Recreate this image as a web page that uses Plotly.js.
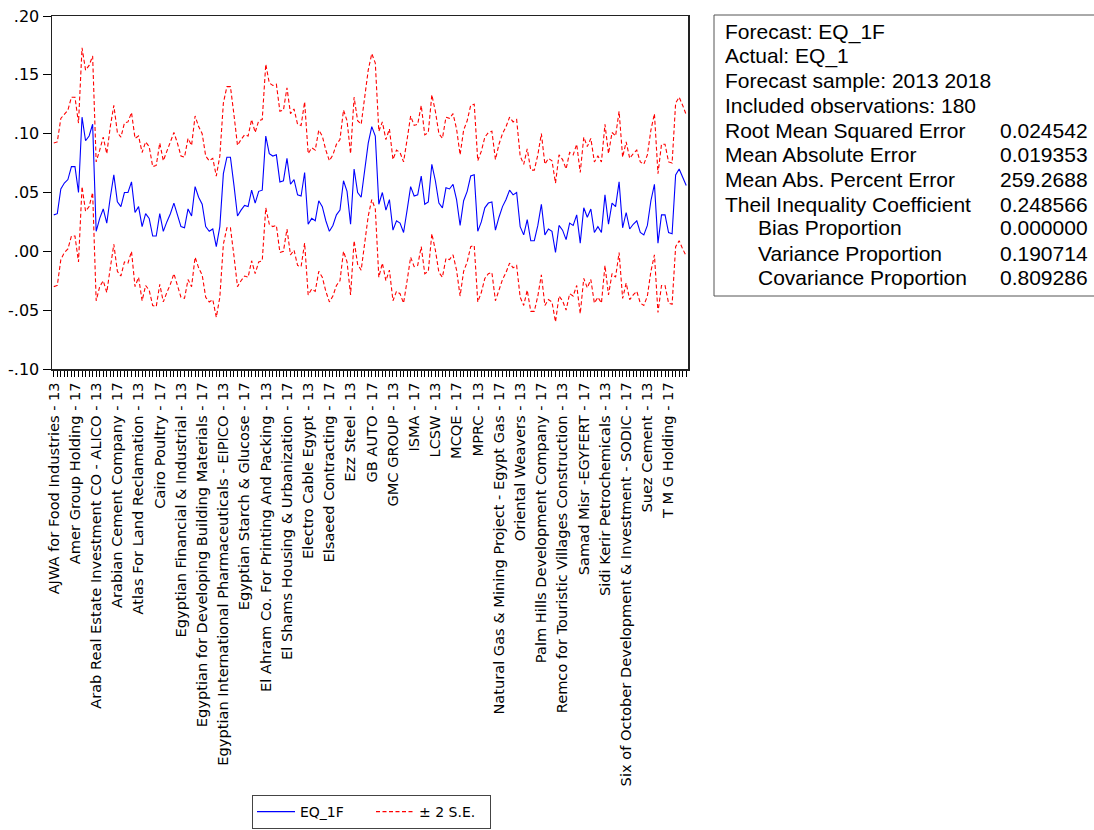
<!DOCTYPE html>
<html>
<head>
<meta charset="utf-8">
<script src="https://cdn.plot.ly/plotly-3.0.1.min.js"></script>
<style>
  html, body { margin: 0; padding: 0; background: #fff; }
  #chart { width: 1094px; height: 830px; }
</style>
</head>
<body>
<div id="chart"></div>
<script>
// ---- Data ----
const tickLabels = [
  "AJWA for Food Industries - 13",
  "Amer Group Holding - 17",
  "Arab Real Estate Investment CO - ALICO - 13",
  "Arabian Cement Company - 17",
  "Atlas For Land Reclamation - 13",
  "Cairo Poultry - 17",
  "Egyptian Financial & Industrial - 13",
  "Egyptian for Developing Building Materials - 17",
  "Egyptian International Pharmaceuticals - EIPICO - 13",
  "Egyptian Starch & Glucose - 17",
  "El Ahram Co. For Printing And Packing - 13",
  "El Shams Housing & Urbanization - 17",
  "Electro Cable Egypt - 13",
  "Elsaeed Contracting - 17",
  "Ezz Steel - 13",
  "GB AUTO - 17",
  "GMC GROUP - 13",
  "ISMA - 17",
  "LCSW - 13",
  "MCQE - 17",
  "MPRC - 13",
  "Natural Gas & Mining Project - Egypt Gas - 17",
  "Oriental Weavers - 13",
  "Palm Hills Development Company - 17",
  "Remco for Touristic Villages Construction - 13",
  "Samad Misr -EGYFERT - 17",
  "Sidi Kerir Petrochemicals - 13",
  "Six of October Development & Investment - SODIC - 17",
  "Suez Cement - 13",
  "T M G Holding - 17"
];

// Forecast EQ_1F, one value per observation (180)
const forecast = [
  0.031, 0.032, 0.053, 0.058, 0.061, 0.072, 0.072, 0.050, 0.114, 0.094,
  0.098, 0.108, 0.017, 0.028, 0.036, 0.024, 0.046, 0.065, 0.042, 0.038,
  0.050, 0.050, 0.059, 0.033, 0.038, 0.021, 0.032, 0.028, 0.013, 0.013,
  0.032, 0.017, 0.025, 0.032, 0.041, 0.032, 0.021, 0.020, 0.036, 0.030,
  0.055, 0.046, 0.040, 0.021, 0.017, 0.019, 0.004, 0.021, 0.066, 0.080,
  0.080, 0.056, 0.030, 0.035, 0.039, 0.038, 0.052, 0.041, 0.051, 0.052,
  0.098, 0.083, 0.081, 0.082, 0.059, 0.060, 0.079, 0.057, 0.061, 0.048,
  0.047, 0.067, 0.023, 0.028, 0.026, 0.043, 0.038, 0.026, 0.017, 0.022,
  0.031, 0.035, 0.060, 0.051, 0.023, 0.070, 0.050, 0.046, 0.069, 0.092,
  0.106, 0.098, 0.040, 0.050, 0.035, 0.044, 0.018, 0.026, 0.024, 0.016,
  0.035, 0.055, 0.047, 0.048, 0.064, 0.040, 0.042, 0.074, 0.060, 0.041,
  0.037, 0.054, 0.053, 0.057, 0.044, 0.022, 0.043, 0.051, 0.064, 0.065,
  0.017, 0.025, 0.037, 0.041, 0.042, 0.018, 0.029, 0.038, 0.044, 0.052,
  0.048, 0.050, 0.021, 0.014, 0.027, 0.009, 0.009, 0.022, 0.040, 0.014,
  0.019, 0.017, -0.001, 0.022, 0.018, 0.010, 0.024, 0.022, 0.031, 0.007,
  0.037, 0.029, 0.036, 0.016, 0.021, 0.016, 0.048, 0.023, 0.041, 0.038,
  0.059, 0.020, 0.033, 0.019, 0.023, 0.026, 0.016, 0.014, 0.022, 0.043,
  0.057, 0.007, 0.031, 0.031, 0.016, 0.015, 0.065, 0.070, 0.063, 0.056
];

// Half-width of the band (2 x S.E.), read per observation
const twoSE = [
  0.061, 0.061, 0.060, 0.059, 0.059, 0.059, 0.059, 0.059, 0.059, 0.060,
  0.060, 0.058, 0.059, 0.058, 0.061, 0.059, 0.060, 0.059, 0.059, 0.059,
  0.059, 0.060, 0.059, 0.063, 0.060, 0.063, 0.061, 0.061, 0.059, 0.060,
  0.060, 0.060, 0.060, 0.060, 0.060, 0.060, 0.060, 0.060, 0.060, 0.060,
  0.060, 0.060, 0.060, 0.060, 0.060, 0.060, 0.060, 0.060, 0.060, 0.060,
  0.060, 0.060, 0.060, 0.060, 0.060, 0.060, 0.060, 0.060, 0.060, 0.060,
  0.061, 0.060, 0.060, 0.060, 0.060, 0.060, 0.060, 0.060, 0.060, 0.060,
  0.060, 0.060, 0.060, 0.060, 0.060, 0.060, 0.060, 0.060, 0.060, 0.060,
  0.060, 0.060, 0.060, 0.060, 0.060, 0.061, 0.061, 0.062, 0.062, 0.062,
  0.062, 0.062, 0.062, 0.060, 0.060, 0.060, 0.060, 0.060, 0.060, 0.060,
  0.060, 0.060, 0.060, 0.060, 0.060, 0.059, 0.059, 0.059, 0.059, 0.059,
  0.059, 0.060, 0.060, 0.060, 0.060, 0.060, 0.060, 0.060, 0.060, 0.060,
  0.060, 0.060, 0.060, 0.060, 0.060, 0.060, 0.062, 0.062, 0.062, 0.062,
  0.062, 0.062, 0.060, 0.060, 0.060, 0.060, 0.060, 0.060, 0.060, 0.060,
  0.060, 0.060, 0.059, 0.060, 0.060, 0.060, 0.060, 0.060, 0.060, 0.060,
  0.060, 0.060, 0.060, 0.060, 0.060, 0.060, 0.060, 0.060, 0.060, 0.060,
  0.060, 0.060, 0.060, 0.060, 0.060, 0.060, 0.060, 0.060, 0.060, 0.060,
  0.060, 0.059, 0.060, 0.060, 0.060, 0.060, 0.061, 0.061, 0.061, 0.060
];

const yTickVals = [-0.10, -0.05, 0.00, 0.05, 0.10, 0.15, 0.20];
const yTickText = ["-.10", "-.05", ".00", ".05", ".10", ".15", ".20"];

const statLabels = [
  "Forecast: EQ_1F",
  "Actual: EQ_1",
  "Forecast sample: 2013 2018",
  "Included observations: 180",
  "Root Mean Squared Error",
  "Mean Absolute Error",
  "Mean Abs. Percent Error",
  "Theil Inequality Coefficient",
  "Bias Proportion",
  "Variance Proportion",
  "Covariance Proportion"
];
const statValues = ["", "", "", "", "0.024542", "0.019353", "259.2688", "0.248566", "0.000000", "0.190714", "0.809286"];
const statIndented = [false, false, false, false, false, false, false, false, true, true, true];

// ---- Build the chart ----
const obs = forecast.map((_, i) => i);
const upper = forecast.map((f, i) => f + twoSE[i]);
const lower = forecast.map((f, i) => f - twoSE[i]);
const tickVals = obs;
const tickText = obs.map(i => (i % 6 === 0 ? tickLabels[i / 6] : ""));

// pixel geometry helpers (plot area: x 52..688, y 16..369)
const W = 1094, H = 830;
const L = 52, R = 688, T = 16, B = 369;
const px = x => (x - L) / (R - L);
const py = y => (B - y) / (B - T);

const traces = [
  { x: obs, y: forecast, type: "scatter", mode: "lines", name: "EQ_1F",
    line: { color: "#0000FF", width: 1.1 } },
  { x: obs, y: upper, type: "scatter", mode: "lines", name: "\u00B1 2 S.E.", legendgroup: "se",
    line: { color: "#FF0000", width: 1.1, dash: "4px,2.5px" } },
  { x: obs, y: lower, type: "scatter", mode: "lines", name: "\u00B1 2 S.E.", legendgroup: "se", showlegend: false,
    line: { color: "#FF0000", width: 1.1, dash: "4px,2.5px" } }
];

const statFont = { family: "Liberation Sans, Arial, sans-serif", size: 21, color: "#000" };
const lineY = [32, 56, 80, 105, 130, 155, 179, 204, 228, 253, 277];
const annotations = [];
statLabels.forEach((t, i) => {
  annotations.push({ text: t, xref: "paper", yref: "paper", x: px(statIndented[i] ? 756 : 723), y: py(lineY[i]),
    xanchor: "left", yanchor: "middle", showarrow: false, font: statFont });
  if (statValues[i]) {
    annotations.push({ text: statValues[i], xref: "paper", yref: "paper", x: px(1090), y: py(lineY[i]),
      xanchor: "right", yanchor: "middle", showarrow: false, font: statFont });
  }
});

const layout = {
  width: W, height: H,
  margin: { l: L, r: W - R, t: T, b: H - B, pad: 0 },
  paper_bgcolor: "#fff", plot_bgcolor: "#fff",
  showlegend: true,
  legend: {
    orientation: "h", xref: "container", yref: "container",
    x: 252 / W, y: (H - 829) / H, xanchor: "left", yanchor: "bottom",
    bgcolor: "#fff", bordercolor: "#444", borderwidth: 1,
    font: { family: "DejaVu Sans, sans-serif", size: 14, color: "#000" },
    itemwidth: 38, entrywidth: 66, tracegroupgap: 0
  },
  xaxis: {
    range: [-0.5, 179.5], tickmode: "array", tickvals: tickVals, ticktext: tickText,
    tickangle: -90, ticks: "outside", ticklen: 6, tickwidth: 1, tickcolor: "#000",
    showgrid: false, zeroline: false, showline: true, linecolor: "#222", linewidth: 1.5, mirror: true,
    tickfont: { family: "DejaVu Sans, sans-serif", size: 14.6, color: "#000" },
    automargin: false, fixedrange: true
  },
  yaxis: {
    range: [-0.10, 0.20], tickmode: "array", tickvals: yTickVals, ticktext: yTickText,
    ticks: "outside", ticklen: 8, tickwidth: 1, tickcolor: "#000",
    showgrid: false, zeroline: false, showline: true, linecolor: "#222", linewidth: 1.5, mirror: true,
    tickfont: { family: "DejaVu Sans, sans-serif", size: 16, color: "#000" },
    automargin: false, fixedrange: true
  },
  shapes: [
    { type: "rect", xref: "paper", yref: "paper", x0: px(714), x1: px(1110), y0: py(296), y1: py(15),
      line: { color: "#555", width: 1 }, fillcolor: "rgba(0,0,0,0)" }
  ],
  annotations: annotations
};

Plotly.newPlot("chart", traces, layout, { staticPlot: true, displayModeBar: false });
</script>
</body>
</html>
